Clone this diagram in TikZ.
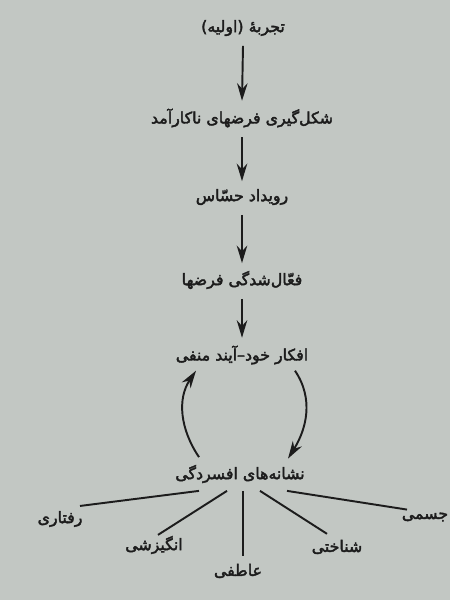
\documentclass[tikz,border=0pt]{standalone}
\usepackage{fontspec}
\newfontfamily\farsifont[Script=Arabic,FakeBold=2.5]{DejaVu Sans}
\TeXXeTstate=1
\usetikzlibrary{calc}
\usetikzlibrary{arrows.meta}
\usetikzlibrary{positioning}
\definecolor{pagegray}{RGB}{194,199,195}
\definecolor{inkgray}{RGB}{28,28,28}
\newcommand{\fatext}[1]{{\farsifont\beginR #1\endR}}
\tikzset{
    stage/.style={font=\farsifont\small, text=inkgray, inner sep=2pt},
    branch/.style={font=\farsifont\small, text=inkgray, inner sep=1pt},
    flow/.style={-{Stealth[length=10pt,width=6pt]}, line width=1.1pt, inkgray},
    spoke/.style={line width=1.1pt, inkgray}
}

\begin{document}
\begin{tikzpicture}
            % page background
            \fill[pagegray] (0,0) rectangle (9,12);
            \useasboundingbox (0,0) rectangle (9,12);

            % chain of stages
            \node[stage] (exp) at (4.86,11.44) {\fatext{تجربهٔ (اولیه)}};
            \node[stage] (assum) at (4.84,9.64) {\fatext{شکل‌گیری فرضهای ناکارآمد}};
            \node[stage] (event) at (4.84,8.06) {\fatext{رویداد حسّاس}};
            \node[stage] (activ) at (4.84,6.40) {\fatext{فعّال‌شدگی فرضها}};
            \node[stage] (neg) at (4.84,4.90) {\fatext{افکار خود–آیند منفی}};
            \node[stage] (sym) at (4.80,2.52) {\fatext{نشانه‌های افسردگی}};

            % downward arrows
            \foreach \a/\b in {exp/assum, assum/event, event/activ, activ/neg} {
                \draw[flow] (\a.south) ++(0,-0.12) coordinate (\a-out) -- ($(\b.north)+(0,0.08)$) coordinate (\b-in);
            }

            % vicious circle
            \draw[flow] ([xshift=-0.82cm,yshift=0.08cm]sym.north) to[out=124, in=236] ([xshift=-0.92cm,yshift=-0.05cm]neg.south);
            \draw[flow] ([xshift=1.06cm,yshift=-0.05cm]neg.south) to[out=-56, in=58] ([xshift=0.96cm,yshift=0.05cm]sym.north);

            % kinds of symptoms
            \node[branch] (behav) at (1.20,1.62) {\fatext{رفتاری}};
            \node[branch] (motiv) at (3.08,1.10) {\fatext{انگیزشی}};
            \node[branch] (affect) at (4.76,0.58) {\fatext{عاطفی}};
            \node[branch] (cogn) at (6.74,1.06) {\fatext{شناختی}};
            \node[branch] (phys) at (8.50,1.66) {\fatext{جسمی}};

            % spokes
            \foreach \leaf/\dx/\x/\y in {behav/-0.82/0.4/0.06, motiv/-0.26/0.08/-0.02, affect/0.06/0.1/0.12, cogn/0.40/-0.2/0.08, phys/0.94/-0.36/0.02} {
                \draw[spoke] ([xshift=\dx cm,yshift=-0.08cm]sym.south) -- ($(\leaf.north)+(\x,\y)$);
            }

\end{tikzpicture}
\end{document}
